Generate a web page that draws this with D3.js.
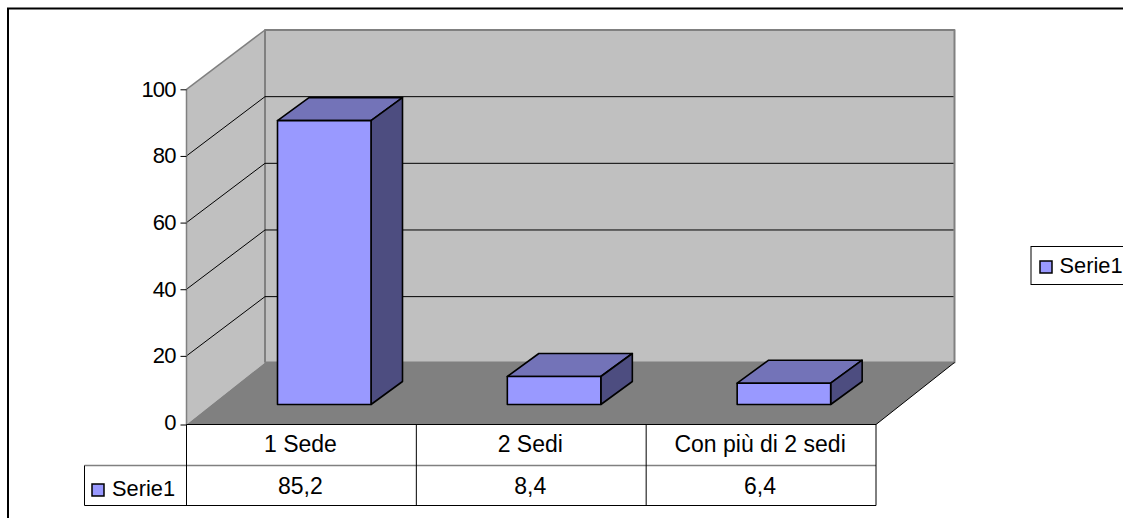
<!DOCTYPE html>
<html><head><meta charset="utf-8">
<script src="https://cdn.jsdelivr.net/npm/d3@7"></script>
<style>html,body{margin:0;padding:0;background:#fff}svg{display:block}text{font-family:"Liberation Sans",Arial,sans-serif;font-size:23px;fill:#000}</style>
</head><body><div id="c"></div>
<script>
const categories = ["1 Sede","2 Sedi","Con più di 2 sedi"];
const values = [85.2,8.4,6.4];
const valueLabels = ["85,2","8,4","6,4"];
const seriesName = "Serie1";
const yTicks = [0,20,40,60,80,100];

const W=1123,H=518;
const svg=d3.select("#c").append("svg").attr("width",W).attr("height",H);
const y=d3.scaleLinear().domain([0,100]).range([422.5,89.3]);      // front edge of the left wall
const yBack=d3.scaleLinear().domain([0,100]).range([363.3,30]);    // back wall
const barY=d3.scaleLinear().domain([0,100]).range([404.5,71.3]);   // bar front face
const x=d3.scaleBand().domain(categories).range([186.5,876]);
const floorFront=424.5, floorBack=362.5, depthX=78.5;
const line=d3.line();
const poly=(pts,fill,stroke,sw)=>svg.append("path").attr("d",line(pts)+"Z").attr("fill",fill).attr("stroke",stroke||"none").attr("stroke-width",sw||0).attr("stroke-linejoin","round");
const seg=(a,b,stroke,sw)=>svg.append("line").attr("x1",a[0]).attr("y1",a[1]).attr("x2",b[0]).attr("y2",b[1]).attr("stroke",stroke).attr("stroke-width",sw||1);

// outer frame
svg.append("rect").attr("x",8).attr("y",8.5).attr("width",W+20).attr("height",H+20).attr("fill","#fff").attr("stroke","#000").attr("stroke-width",2);

const x0=x.range()[0],x1=x.range()[1],bx0=x0+depthX,bx1=x1+depthX;
const top100=yBack(100), fTop=y(100);
// walls and floor
poly([[bx0,floorBack],[bx1,floorBack],[bx1,top100],[bx0,top100]],"#c0c0c0","#808080",2);
poly([[x0,floorFront],[bx0,floorBack],[bx0,top100],[x0,fTop]],"#c0c0c0");
seg([x0,fTop],[bx0,top100],"#808080",1.5);
seg([bx0,floorBack],[bx0,top100],"#808080",2);
poly([[x0,floorFront],[x1,floorFront],[bx1,floorBack],[bx0,floorBack]],"#808080");
seg([x1,floorFront],[bx1,floorBack],"#000",1);
// gridlines
yTicks.filter(t=>t>0&&t<100).forEach(t=>{
  seg([x0,y(t)],[bx0,yBack(t)],"#000",1);
  seg([bx0,yBack(t)],[bx1-1,yBack(t)],"#000",1);
});
seg([x0,floorFront],[x0,fTop],"#808080",1.5);

// y axis
const axis=svg.append("g").attr("transform",`translate(${x0},0)`).call(d3.axisLeft(y).tickValues(yTicks).tickSize(6).tickPadding(5).tickFormat(d3.format("d")));
axis.select(".domain").remove();
axis.selectAll("line").attr("stroke","#000").attr("transform",d=>d===0?`translate(0,${floorFront-y(0)})`:null);
axis.selectAll("text").style("font-size","22px").style("letter-spacing","-0.9px").attr("fill","#000");

// bars
const barInset=91, barW=93.5, dx=31.5, dy=-23;
categories.forEach((c,i)=>{
  const l=x(c)+barInset, r=l+barW, b=barY(0), top=barY(values[i]);
  poly([[l,top],[r,top],[r+dx,top+dy],[l+dx,top+dy]],"#7373b8","#000",1.6);
  poly([[r,b],[r+dx,b+dy],[r+dx,top+dy],[r,top]],"#4d4d80","#000",1.6);
  poly([[l,b],[r,b],[r,top],[l,top]],"#9999ff","#000",1.6);
});

// data table
const tableLeft=84.5, rowA=465.5, rowB=505.5;
seg([tableLeft,rowA],[x1,rowA],"#808080",1.5);
seg([tableLeft,rowB],[x1,rowB],"#000",1);
seg([tableLeft,rowA],[tableLeft,rowB],"#000",1);
seg([x0,floorFront],[x1,floorFront],"#000",1);
seg([x0,floorFront],[x0,rowB],"#000",1);
categories.forEach((c,i)=>{
  const e=x(c)+x.bandwidth();
  seg([e,floorFront],[e,rowB],"#000",1);
  const cx=x(c)+x.bandwidth()/2-1;
  svg.append("text").attr("x",cx).attr("y",452).attr("text-anchor","middle").text(c);
  svg.append("text").attr("x",cx).attr("y",494).attr("text-anchor","middle").text(valueLabels[i]);
});
svg.append("rect").attr("x",92).attr("y",484).attr("width",12).attr("height",12).attr("fill","#9999ff").attr("stroke","#000").attr("stroke-width",1.5);
svg.append("text").attr("x",112).attr("y",495.5).style("font-size","21.8px").text(seriesName);

// legend
svg.append("rect").attr("x",1031).attr("y",246.5).attr("width",W).attr("height",38).attr("fill","#fff").attr("stroke","#000").attr("stroke-width",1);
svg.append("rect").attr("x",1040).attr("y",261).attr("width",12).attr("height",12).attr("fill","#9999ff").attr("stroke","#000").attr("stroke-width",1.5);
svg.append("text").attr("x",1059.5).attr("y",272.5).style("font-size","21.8px").text(seriesName);
</script></body></html>
